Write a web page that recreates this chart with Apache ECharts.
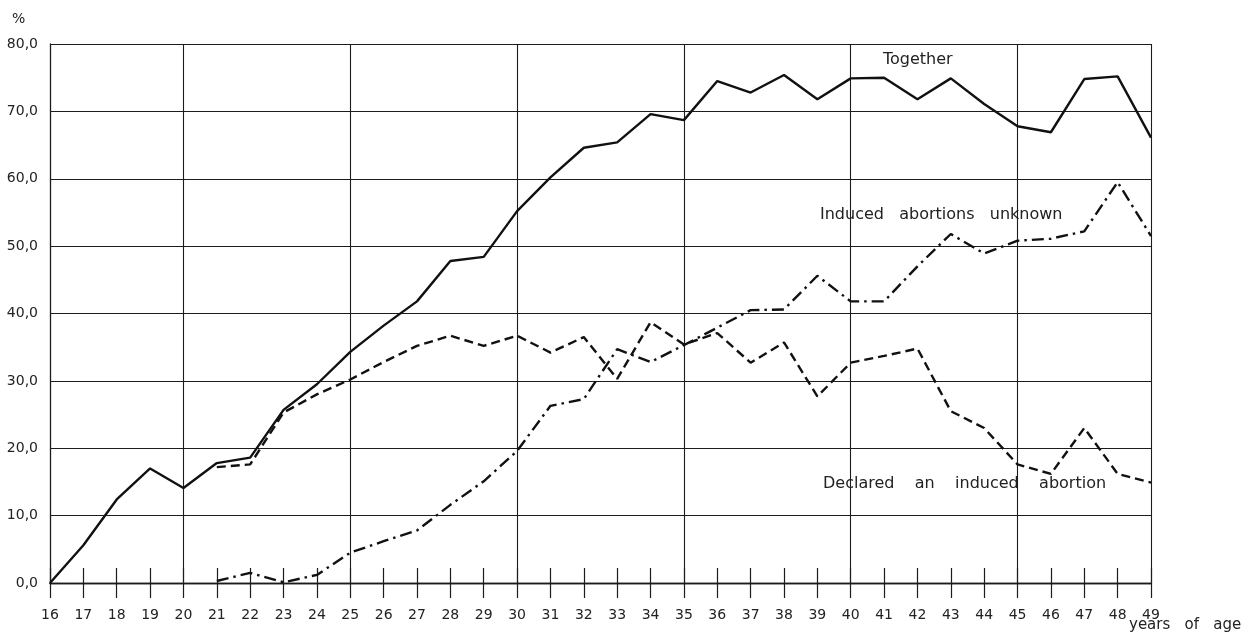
<!DOCTYPE html>
<html>
<head>
<meta charset="utf-8">
<script src="https://cdn.jsdelivr.net/npm/echarts@6/dist/echarts.min.js"></script>
<style>
html,body{margin:0;padding:0;background:#fff;}
#c{width:1250px;height:637px;}
</style>
</head>
<body>
<div id="c"></div>
<script>
// Ages (x categories)
var ages = [16,17,18,19,20,21,22,23,24,25,26,27,28,29,30,31,32,33,34,35,36,37,38,39,40,41,42,43,44,45,46,47,48,49];
// Together (solid)
var together = [0.0,5.6,12.4,17.0,14.1,17.8,18.6,25.7,29.5,34.3,38.2,41.8,47.8,48.4,55.2,60.2,64.6,65.4,69.6,68.7,74.5,72.8,75.4,71.8,74.9,75.0,71.8,74.9,71.1,67.8,66.9,74.8,75.2,66.1];
// Declared an induced abortion (dashed)
var declared = [null,null,null,null,null,17.2,17.6,25.3,28.0,30.2,32.8,35.2,36.7,35.2,36.7,34.2,36.5,30.3,38.7,35.4,37.1,32.7,35.7,27.7,32.7,33.7,34.8,25.5,23.0,17.6,16.2,23.0,16.2,14.9];
// Induced abortions unknown (dash-dot)
var unknown = [null,null,null,null,null,0.3,1.5,0.1,1.2,4.5,6.2,7.8,11.6,15.1,19.6,26.3,27.3,34.7,32.8,35.3,37.9,40.5,40.6,45.6,41.8,41.8,47.0,51.8,48.9,50.8,51.1,52.2,59.5,51.5];
// Y tick values
var yMin = 0, yMax = 80, yStep = 10;
var majorAges = [20,25,30,35,40,45,49];

var ink = '#1c1c1c';
var font = 'DejaVu Sans';
var chart = echarts.init(document.getElementById('c'), null, {renderer:'canvas'});

var xBase = {
  type: 'category',
  data: ages.map(String),
  boundaryGap: false,
  axisLine: {show:true, lineStyle:{color:ink, width:1.3}},
  axisLabel: {show:false},
  splitLine: {show:false}
};

chart.setOption({
  animation: false,
  backgroundColor: '#fff',
  grid: {left: 50, top: 44, width: 1101, height: 539, containLabel: false},
  xAxis: [
    Object.assign({}, xBase, {
      axisTick: {show:true, length:15, interval:0, lineStyle:{color:ink, width:1.2}},
      axisLabel: {show:true, interval:0, margin:25, color:'#222', fontFamily:font, fontSize:14},
      splitLine: {show:true, interval:function(i, v){ return majorAges.indexOf(+v) >= 0; }, lineStyle:{color:ink, width:1.1}}
    }),
    Object.assign({}, xBase, {
      position:'bottom',
      axisTick: {show:true, inside:true, length:15, interval:0, lineStyle:{color:ink, width:1.2}}
    })
  ],
  yAxis: {
    type: 'value', min: yMin, max: yMax, interval: yStep,
    axisLine: {show:true, lineStyle:{color:ink, width:1.3}},
    axisTick: {show:false},
    axisLabel: {margin:12, color:'#222', fontFamily:font, fontSize:14,
      formatter: function(v){ return v.toFixed(1).replace('.', ','); }},
    splitLine: {show:true, lineStyle:{color:ink, width:1.1}}
  },
  series: [
    {name:'Together', type:'line', data: together, xAxisIndex:0, symbol:'none', connectNulls:false,
     lineStyle:{color:'#111', width:2.4, type:'solid'}},
    {name:'Declared an induced abortion', type:'line', data: declared, xAxisIndex:0, symbol:'none',
     lineStyle:{color:'#111', width:2.4, type:[9,5]}},
    {name:'Induced abortions unknown', type:'line', data: unknown, xAxisIndex:0, symbol:'none',
     lineStyle:{color:'#111', width:2.4, type:[12,5,2.5,5]}}
  ],
  graphic: [
    {type:'text', left:12, top:12, style:{text:'%', fontFamily:font, fontSize:14, fill:'#222'}},
    {type:'text', left:883, top:52, style:{text:'Together', fontFamily:font, fontSize:16, fill:'#222'}},
    {type:'text', left:820, top:207, style:{text:'Induced   abortions   unknown', fontFamily:font, fontSize:16, fill:'#222'}},
    {type:'text', left:823, top:476, style:{text:'Declared    an    induced    abortion', fontFamily:font, fontSize:16, fill:'#222'}},
    {type:'text', left:1129, top:618, style:{text:'years   of   age', fontFamily:font, fontSize:15, fill:'#222'}}
  ]
});
</script>
</body>
</html>
